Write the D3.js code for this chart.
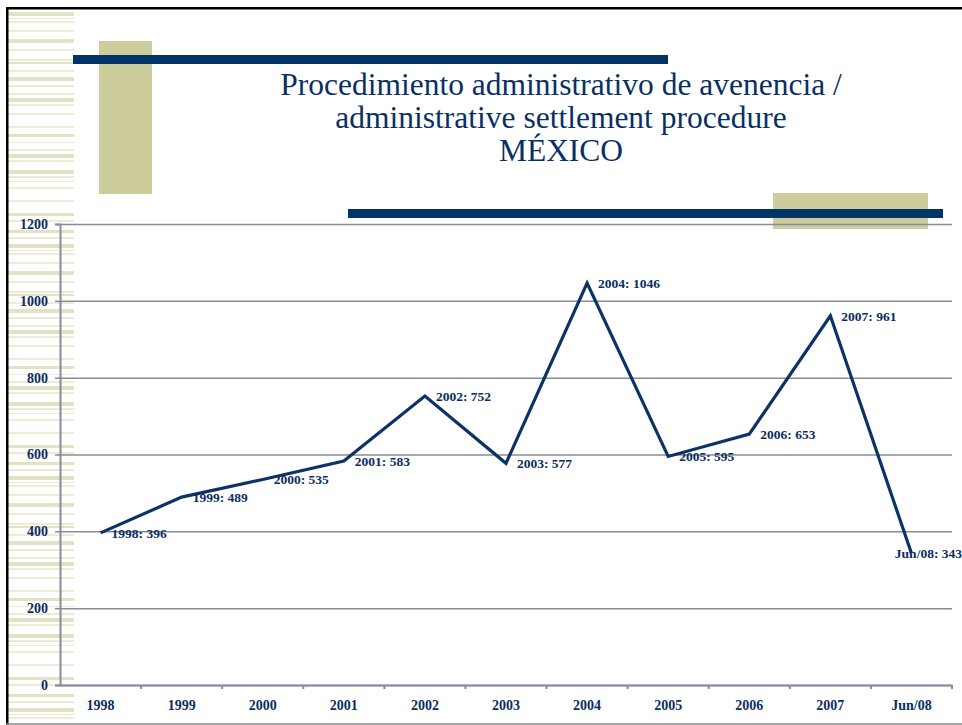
<!DOCTYPE html>
<html>
<head>
<meta charset="utf-8">
<script src="https://cdn.jsdelivr.net/npm/d3@7/dist/d3.min.js"></script>
<style>
  html, body { margin: 0; padding: 0; background: #fff; }
  svg { display: block; }
</style>
</head>
<body>
<div id="chart"></div>
<script>
// chart data
var categories = ["1998", "1999", "2000", "2001", "2002", "2003", "2004", "2005", "2006", "2007", "Jun/08"];
var values = [396, 489, 535, 583, 752, 577, 1046, 595, 653, 961, 343];
var y_ticks = [0, 200, 400, 600, 800, 1000, 1200];
var title_lines = ["Procedimiento administrativo de avenencia /", "administrative settlement procedure", "MÉXICO"];

var width = 962, height = 725;
var navy = "#003366", khaki = "#cccc9c", grid_color = "#888b9b", text_color = "#0b2d5e";
var serif = "'Liberation Serif', 'Times New Roman', serif";

var svg = d3.select("#chart").append("svg")
    .attr("width", width)
    .attr("height", height);

// slide decoration: striped left margin
var stripe_pattern = [[0,4,1],[6,1,0],[9,2,0],[18,2,0],[27,4,1],[37,2,0],[47,2,0],[50,2,1],[58,2,0],[65,4,1],[73,2,0],[81,2,0],[86,4,1],[92,2,0],[101,2,0],[114,2,0],[122,3,1],[130,1,0],[137,2,0],[142,4,1],[148,2,0],[158,4,1],[164,2,0],[169,1,0],[175,2,0],[188,2,0],[201,3,1],[208,2,0],[218,3,1],[225,2,0]];
var g_deco = svg.append("g");
for (var off = 12; off < height; off += 232) {
    stripe_pattern.forEach(function(s) {
        if (off + s[0] < height - 2) {
            g_deco.append("rect")
                .attr("x", 8).attr("y", off + s[0])
                .attr("width", 66).attr("height", s[1])
                .attr("fill", s[2] ? "#e4e2c4" : "#ecebd6");
        }
    });
}
// borders
g_deco.append("rect").attr("x", 6).attr("y", 7).attr("width", width - 6).attr("height", 2.5).attr("fill", "#000");
g_deco.append("rect").attr("x", 6).attr("y", 7).attr("width", 2.5).attr("height", height - 7).attr("fill", "#000");
g_deco.append("line").attr("x1", 6).attr("x2", width).attr("y1", 724).attr("y2", 724)
    .attr("stroke", "#8a8a8a").attr("stroke-width", 1.5);

// khaki blocks and navy bars
g_deco.append("rect").attr("x", 99).attr("y", 41).attr("width", 53).attr("height", 153).attr("fill", khaki);
g_deco.append("rect").attr("x", 773).attr("y", 193).attr("width", 155).attr("height", 36).attr("fill", khaki);
g_deco.append("rect").attr("x", 73).attr("y", 55).attr("width", 595).attr("height", 9).attr("fill", navy);
g_deco.append("rect").attr("x", 348).attr("y", 209).attr("width", 595).attr("height", 9).attr("fill", navy);

// title
var title_baselines = [95, 128, 161];
svg.append("g").selectAll("text")
    .data(title_lines)
    .join("text")
    .attr("x", 561)
    .attr("y", (d, i) => title_baselines[i])
    .attr("text-anchor", "middle")
    .style("font-family", serif)
    .style("font-size", "31.5px")
    .style("fill", "#0a2f66")
    .text(d => d);

// scales
var x = d3.scaleBand().domain(categories).range([60, 952]);
var y = d3.scaleLinear().domain([0, 1200]).range([685, 224]);

var g_chart = svg.append("g");

// horizontal gridlines with y axis
var y_axis = d3.axisLeft(y).tickValues(y_ticks).tickSize(5).tickPadding(7).tickFormat(d3.format("d"));
var gy = g_chart.append("g").attr("transform", "translate(60,0)").call(y_axis);
gy.select(".domain").attr("stroke", grid_color).attr("stroke-width", 2);
gy.selectAll(".tick line").attr("stroke", grid_color).attr("stroke-width", 1.5);
gy.selectAll(".tick").append("line")
    .attr("x1", 0).attr("x2", 892)
    .attr("stroke", grid_color).attr("stroke-width", 1.5);
gy.selectAll(".tick text")
    .style("font-family", serif)
    .style("font-weight", "bold")
    .style("font-size", "14px")
    .style("fill", text_color);

// x axis
var x_axis = d3.axisBottom(x).tickSize(0).tickPadding(15);
var gx = g_chart.append("g").attr("transform", "translate(0,685)").call(x_axis);
gx.select(".domain").attr("stroke", grid_color).attr("stroke-width", 2);
gx.selectAll(".tick text")
    .style("font-family", serif)
    .style("font-weight", "bold")
    .style("font-size", "14px")
    .style("fill", text_color);
// category boundary ticks
gx.selectAll(".bound")
    .data(categories)
    .join("line")
    .attr("class", "bound")
    .attr("x1", d => x(d) + x.bandwidth())
    .attr("x2", d => x(d) + x.bandwidth())
    .attr("y1", 0).attr("y2", 4)
    .attr("stroke", grid_color).attr("stroke-width", 2);

// data line
var points = categories.map((c, i) => ({cat: c, val: values[i]}));
var line = d3.line()
    .x(d => x(d.cat) + x.bandwidth() / 2)
    .y(d => y(d.val));
g_chart.append("path")
    .datum(points)
    .attr("d", line)
    .attr("fill", "none")
    .attr("stroke", "#0d3366")
    .attr("stroke-width", 3.2)
    .attr("stroke-linejoin", "miter");

// data labels
g_chart.append("g").selectAll("text")
    .data(points)
    .join("text")
    .attr("x", d => x(d.cat) + x.bandwidth() / 2 + 11)
    .attr("y", d => y(d.val))
    .attr("dy", "0.35em")
    .style("font-family", serif)
    .style("font-weight", "bold")
    .style("font-size", "13.5px")
    .style("fill", text_color)
    .text(d => d.cat + ": " + d.val)
    .each(function() {
        // keep labels inside the slide
        var w = this.getComputedTextLength();
        var lx = +this.getAttribute("x");
        if (lx + w > width) this.setAttribute("x", width - w);
    });
</script>
</body>
</html>
